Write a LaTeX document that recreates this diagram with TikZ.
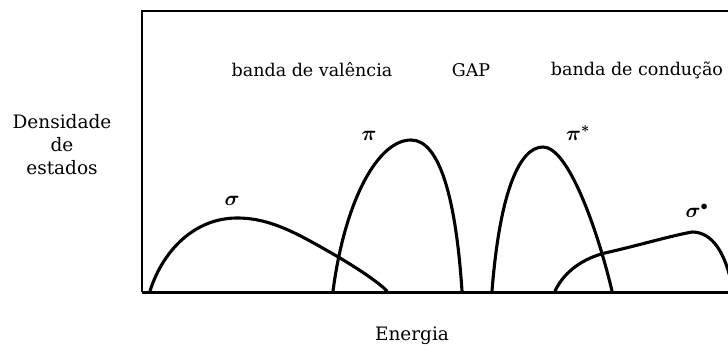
\documentclass[tikz,border=0pt]{standalone}
\usepackage{fontspec}
\setmainfont{DejaVu Serif}
\usepackage{amsmath}
\usepackage{bm}
\begin{document}
\begin{tikzpicture}[x=1pt,y=-1pt,
  lbl/.style={font=\fontsize{17.5}{20}\selectfont, inner sep=0pt, anchor=center},
  glbl/.style={font=\fontsize{20}{20}\selectfont, inner sep=0pt, anchor=center},
  band/.style={line width=3.1pt, line cap=round, line join=round}]
\useasboundingbox (0,0) rectangle (728,358);
\begin{scope}
\clip (0,0) rectangle (728,358);
% frame
\draw[line width=1.8pt] (142,292) -- (142,11) -- (740,11);
\draw[line width=3pt] (142,292) -- (740,292);
% sigma band
\draw[band] (150,291) .. controls (163,250) and (195,218) .. (237,218)
  .. controls (272,218) and (300,235) .. (340,258)
  .. controls (360,270) and (378,282) .. (387,291);
% pi band
\draw[band] (333,291) .. controls (345,200) and (378,140) .. (411,140)
  .. controls (440,140) and (456,200) .. (462,291);
% pi* band
\draw[band] (492,291) .. controls (500,190) and (520,147) .. (543,147)
  .. controls (568,147) and (597,228) .. (612,291);
% sigma* band
\draw[band] (555,291) .. controls (565,270) and (585,258) .. (605,253)
  .. controls (640,245) and (670,236) .. (692,232)
  .. controls (712,232) and (726,252) .. (733,291);
\end{scope}
% labels
\node[lbl] (val) at (312,70) {banda de valência};
\node[lbl] (gap) at (471,70) {GAP};
\node[lbl] (cond) at (637,70) {banda de condução};
\node[lbl, align=center, font=\fontsize{18.5}{23}\selectfont] (dens) at (62,145) {Densidade\\de\\estados};
\node[lbl, font=\fontsize{18.5}{20}\selectfont] (ener) at (412,336) {Energia};
\node[glbl] (sig) at (232,201) {$\bm{\sigma}$};
\node[glbl] (pi) at (369,136) {$\bm{\pi}$};
\node[glbl] (pis) at (578,133) {$\bm{\pi}^{\bm{*}}$};
\node[glbl] (sigs) at (697,211) {$\bm{\sigma}^{\bullet}$};
\end{tikzpicture}
\end{document}
